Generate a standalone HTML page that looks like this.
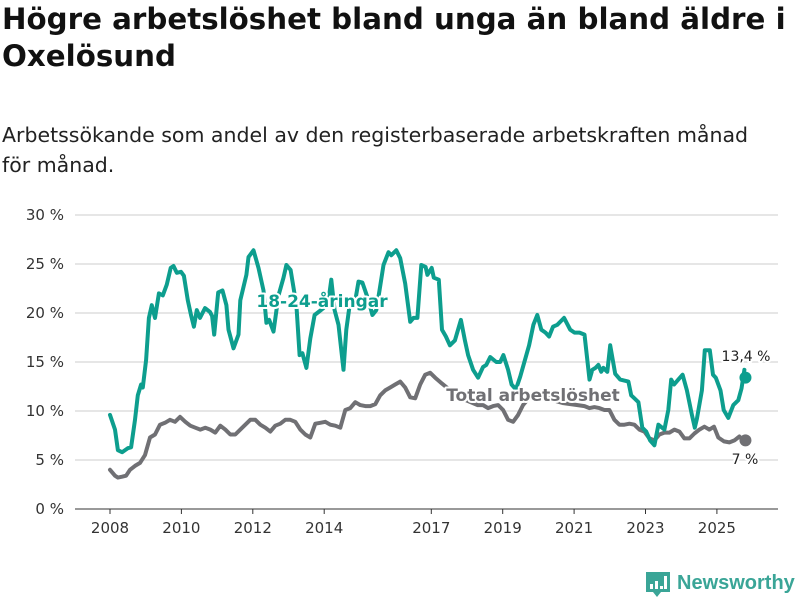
<!DOCTYPE html>
<html><head><meta charset="utf-8"><style>
body{margin:0;width:800px;height:600px;background:#fff;overflow:hidden;font-family:"DejaVu Sans","Liberation Sans",sans-serif;}
h1{position:absolute;left:2px;top:1px;margin:0;font-size:29.3px;line-height:37px;font-weight:bold;color:#111;width:796px;}
.sub{position:absolute;left:2px;top:120px;font-size:20.5px;line-height:30px;color:#222;width:780px;}
svg{position:absolute;left:0;top:0;}
</style></head><body>
<h1>Högre arbetslöshet bland unga än bland äldre i Oxelösund</h1>
<div class="sub">Arbetssökande som andel av den registerbaserade arbetskraften månad för månad.</div>
<svg id="chart" width="800" height="600"></svg>
<script>
const yTicks=[0,5,10,15,20,25,30];
const yTickLabels=["0 %","5 %","10 %","15 %","20 %","25 %","30 %"];
const xTicks=[2008,2010,2012,2014,2017,2019,2021,2023,2025];
const youthT=[2008,2008.14,2008.22,2008.34,2008.5,2008.59,2008.7,2008.78,2008.87,2008.92,2009.01,2009.09,2009.17,2009.26,2009.37,2009.48,2009.59,2009.7,2009.78,2009.87,2009.99,2010.07,2010.18,2010.27,2010.35,2010.43,2010.52,2010.66,2010.8,2010.86,2010.92,2011.03,2011.15,2011.26,2011.32,2011.46,2011.6,2011.65,2011.82,2011.88,2012.02,2012.16,2012.3,2012.38,2012.46,2012.58,2012.72,2012.86,2012.94,2013.06,2013.22,2013.31,2013.39,2013.5,2013.61,2013.73,2013.84,2013.98,2014.12,2014.2,2014.29,2014.4,2014.48,2014.54,2014.62,2014.73,2014.87,2014.96,2015.07,2015.24,2015.35,2015.46,2015.55,2015.66,2015.8,2015.88,2016.02,2016.13,2016.27,2016.41,2016.5,2016.61,2016.72,2016.84,2016.89,2017.01,2017.07,2017.21,2017.3,2017.41,2017.52,2017.66,2017.83,2017.94,2018.03,2018.17,2018.31,2018.45,2018.54,2018.65,2018.82,2018.93,2019.02,2019.15,2019.25,2019.37,2019.49,2019.74,2019.86,2019.97,2020.08,2020.2,2020.3,2020.41,2020.53,2020.72,2020.89,2021.01,2021.15,2021.29,2021.43,2021.51,2021.6,2021.68,2021.76,2021.82,2021.93,2022.01,2022.15,2022.29,2022.52,2022.6,2022.69,2022.8,2022.91,2023.02,2023.13,2023.25,2023.36,2023.53,2023.64,2023.72,2023.8,2023.92,2024.04,2024.16,2024.3,2024.38,2024.44,2024.58,2024.66,2024.8,2024.89,2024.97,2025.1,2025.19,2025.32,2025.46,2025.6,2025.69,2025.77];
const youthV=[9.6,8.1,6.0,5.8,6.2,6.3,9.1,11.6,12.7,12.4,15.2,19.5,20.8,19.5,22.0,21.8,22.9,24.6,24.8,24.1,24.2,23.8,21.3,19.8,18.6,20.3,19.5,20.5,20.1,19.7,17.8,22.1,22.3,20.8,18.3,16.4,17.8,21.3,23.9,25.7,26.4,24.6,22.3,19.0,19.3,18.1,21.8,23.6,24.9,24.4,20.8,15.7,15.9,14.4,17.4,19.8,20.1,20.5,21.3,23.4,20.3,18.8,16.2,14.2,18.3,21.3,21.3,23.2,23.1,21.3,19.8,20.3,22.3,24.9,26.2,25.9,26.4,25.6,23.0,19.1,19.5,19.5,24.9,24.7,23.9,24.6,23.6,23.4,18.3,17.6,16.7,17.2,19.3,17.2,15.7,14.2,13.4,14.5,14.7,15.5,15.0,15.0,15.7,14.2,12.7,12.2,13.5,16.7,18.8,19.8,18.3,18.0,17.6,18.6,18.8,19.5,18.3,18.0,18.0,17.8,13.2,14.2,14.4,14.7,14.0,14.4,14.0,16.7,13.8,13.2,13.0,11.6,11.3,10.9,8.3,7.9,7.0,6.5,8.6,8.1,10.1,13.2,12.7,13.2,13.7,12.1,9.6,8.3,9.2,12.1,16.2,16.2,13.7,13.4,12.1,10.1,9.3,10.6,11.1,12.3,14.2,13.6];
const totalT=[2008,2008.14,2008.22,2008.34,2008.45,2008.56,2008.7,2008.84,2008.98,2009.12,2009.26,2009.4,2009.54,2009.68,2009.82,2009.96,2010.11,2010.25,2010.39,2010.53,2010.67,2010.81,2010.95,2011.09,2011.23,2011.37,2011.51,2011.65,2011.79,2011.93,2012.07,2012.21,2012.35,2012.49,2012.63,2012.77,2012.91,2013.05,2013.19,2013.33,2013.47,2013.61,2013.75,2013.89,2014.03,2014.17,2014.31,2014.45,2014.59,2014.73,2014.87,2015.01,2015.15,2015.29,2015.43,2015.57,2015.71,2015.85,2015.99,2016.13,2016.27,2016.41,2016.55,2016.69,2016.83,2016.97,2017.11,2017.3,2017.5,2017.7,2017.9,2018.1,2018.3,2018.45,2018.59,2018.73,2018.87,2019.01,2019.15,2019.29,2019.43,2019.57,2019.71,2019.9,2020.1,2020.3,2020.5,2020.7,2020.9,2021.1,2021.29,2021.43,2021.57,2021.71,2021.85,2021.99,2022.13,2022.27,2022.41,2022.55,2022.69,2022.83,2022.97,2023.11,2023.25,2023.39,2023.53,2023.67,2023.81,2023.95,2024.09,2024.23,2024.37,2024.51,2024.65,2024.79,2024.92,2025.04,2025.2,2025.35,2025.49,2025.63,2025.74,2025.8];
const totalV=[4.0,3.4,3.2,3.3,3.4,4.0,4.4,4.7,5.5,7.3,7.6,8.6,8.8,9.1,8.9,9.4,8.9,8.5,8.3,8.1,8.3,8.1,7.8,8.5,8.1,7.6,7.6,8.1,8.6,9.1,9.1,8.6,8.3,7.9,8.5,8.7,9.1,9.1,8.9,8.1,7.6,7.3,8.7,8.8,8.9,8.6,8.5,8.3,10.1,10.3,10.9,10.6,10.5,10.5,10.7,11.6,12.1,12.4,12.7,13.0,12.4,11.4,11.3,12.7,13.7,13.9,13.4,12.8,12.2,11.6,11.2,10.9,10.6,10.6,10.3,10.5,10.6,10.1,9.1,8.9,9.6,10.6,11.2,11.6,11.6,11.3,11.0,10.8,10.7,10.6,10.5,10.3,10.4,10.3,10.1,10.1,9.1,8.6,8.6,8.7,8.6,8.1,7.9,7.2,7.0,7.6,7.8,7.8,8.1,7.9,7.2,7.2,7.7,8.1,8.4,8.1,8.4,7.3,6.9,6.8,7.0,7.4,7.0];
const endYouth=13.4, endTotal=7.0;
const NS='http://www.w3.org/2000/svg';
const svg=document.getElementById('chart');
const X0=75,X1=778;
const x=t=>110+(t-2008)*35.7;
const y=v=>509-v*9.8;
function mk(tag,attrs,parent){const e=document.createElementNS(NS,tag);for(const k in attrs)e.setAttribute(k,attrs[k]);(parent||svg).appendChild(e);return e;}
yTicks.forEach((v,i)=>{
  const g=mk('line',{x1:X0,x2:X1,y1:y(v),y2:y(v),stroke:v===0?'#333':'#ddd','stroke-width':v===0?1:1.5});
  
  
  const t=mk('text',{x:64,y:y(v)+5,'text-anchor':'end','font-size':15,fill:'#333'});
  t.textContent=yTickLabels[i];
  
  
});
xTicks.forEach(yr=>{
  const l=mk('line',{x1:x(yr),x2:x(yr),y1:509,y2:514,stroke:'#333'});
  
  
  const t=mk('text',{x:x(yr),y:533,'text-anchor':'middle','font-size':15,fill:'#333'});
  t.textContent=yr;
  
  
});
function line(T,V,color,name){
  const d=T.map((t,i)=>(i?'L':'M')+x(t).toFixed(1)+','+y(V[i]).toFixed(1)).join('');
  const p=mk('path',{d:d,fill:'none',stroke:color,'stroke-width':4,'stroke-linejoin':'round','stroke-linecap':'round'});
  
  
}
line(totalT,totalV,'#707074','total-line');
line(youthT,youthV,'#0d9e8e','youth-line');
const lastT=2025.8;
const d1=mk('circle',{cx:x(lastT),cy:y(endYouth),r:6,fill:'#0d9e8e'});


const d2=mk('circle',{cx:x(lastT),cy:y(endTotal),r:6,fill:'#707074'});


function lbl(txt,xx,yy,size,color,bold,name,anchor){
  const t=mk('text',{x:xx,y:yy,'font-size':size,fill:color,'font-weight':bold?'bold':'normal','text-anchor':anchor||'middle',stroke:'#fff','stroke-width':4,'paint-order':'stroke','stroke-linejoin':'round'});
  t.textContent=txt;
  
  
}
lbl('18-24-åringar',322,307,17,'#0d9e8e',true,'youth-series-label');
lbl('Total arbetslöshet',533,401,17,'#707074',true,'total-series-label');
lbl('13,4 %',746,361,14,'#222',false,'youth-end-value');
lbl('7 %',745,464,14,'#222',false,'total-end-value');
const lg=mk('g',{});


mk('path',{d:'M646,572 h24 v20 h-9 l-4,5 l-4,-5 h-7 z',fill:'#3aa597'},lg);
mk('rect',{x:650,y:584,width:3,height:5,fill:'#fff'},lg);
mk('rect',{x:655,y:581,width:3,height:8,fill:'#fff'},lg);
mk('rect',{x:660,y:586,width:3,height:3,fill:'#fff'},lg);
mk('rect',{x:664,y:576,width:3,height:13,fill:'#fff'},lg);
const lt=mk('text',{x:677,y:589,'font-size':20,fill:'#3aa597','font-family':'Liberation Sans, sans-serif','font-weight':'bold'},lg);
lt.textContent='Newsworthy';
</script>
</body></html>
